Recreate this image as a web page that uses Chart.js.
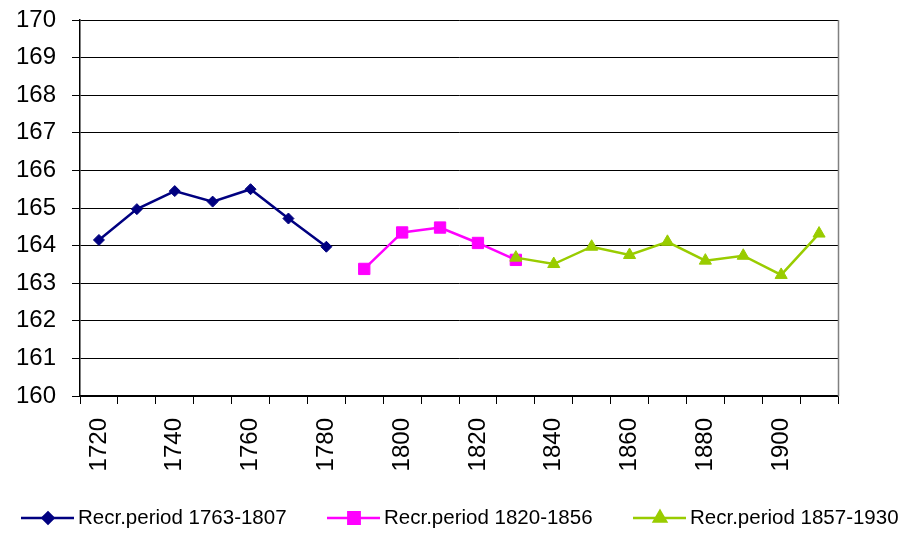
<!DOCTYPE html>
<html>
<head>
<meta charset="utf-8">
<script src="https://cdn.jsdelivr.net/npm/chart.js@4/dist/chart.umd.min.js"></script>
<style>
html,body{margin:0;padding:0;background:#fff;}
#wrap{width:903px;height:533px;position:relative;}
</style>
</head>
<body>
<div id="wrap"><canvas id="c" width="903" height="533"></canvas></div>
<script>
const years = ["1720","1730","1740","1750","1760","1770","1780","1790","1800","1810","1820","1830","1840","1850","1860","1870","1880","1890","1900","1910"];
const seriesNames = ["Recr.period 1763-1807","Recr.period 1820-1856","Recr.period 1857-1930"];
const period1 = [164.15,164.97,165.45,165.17,165.5,164.72,163.97,null,null,null,null,null,null,null,null,null,null,null,null,null];
const period2 = [null,null,null,null,null,null,null,163.38,164.35,164.48,164.07,163.62,null,null,null,null,null,null,null,null];
const period3 = [null,null,null,null,null,null,null,null,null,null,null,163.68,163.51,163.97,163.75,164.1,163.6,163.73,163.22,164.32];
const yMin = 160, yMax = 170, yStep = 1;

const FONT = "'Liberation Sans', Arial, sans-serif";
const colors = ["#000080","#FF00FF","#99CC00"];
const styles = ["rectRot","rect","triangle"];
const radii = [5.5,8,7];

const extras = {
  id: 'extras',
  afterDraw(chart) {
    const ctx = chart.ctx;
    const a = chart.chartArea;
    ctx.save();
    ctx.strokeStyle = '#808080';
    ctx.lineWidth = 1.5;
    ctx.beginPath();
    ctx.moveTo(a.right + 0.5, a.top);
    ctx.lineTo(a.right + 0.5, a.bottom);
    ctx.stroke();
    // legend
    const xs = [21, 327, 633];
    const ly = 518;
    ctx.font = "20.5px " + FONT;
    ctx.textBaseline = 'middle';
    ctx.textAlign = 'left';
    chart.data.datasets.forEach((ds, i) => {
      const x0 = xs[i];
      ctx.strokeStyle = colors[i];
      ctx.lineWidth = 2.5;
      ctx.beginPath();
      ctx.moveTo(x0, ly);
      ctx.lineTo(x0 + 53, ly);
      ctx.stroke();
      Chart.helpers.drawPoint(ctx, {pointStyle: styles[i], radius: radii[i], rotation: 0, borderWidth: 1}, x0 + 27, ly);
      ctx.fillStyle = colors[i];
      ctx.fill();
      ctx.fillStyle = '#000';
      ctx.fillText(ds.label, x0 + 57, ly);
    });
    ctx.restore();
  }
};

function mk(label, data, i, order) {
  return {
    label, data, order,
    borderColor: colors[i], backgroundColor: colors[i],
    borderWidth: 2.5, pointStyle: styles[i], pointRadius: radii[i],
    pointBackgroundColor: colors[i], pointBorderColor: colors[i], pointBorderWidth: 1,
    spanGaps: false, tension: 0
  };
}

new Chart(document.getElementById('c'), {
  type: 'line',
  data: {
    labels: years,
    datasets: [
      mk(seriesNames[0], period1, 0, 1),
      mk(seriesNames[1], period2, 1, 2),
      mk(seriesNames[2], period3, 2, 0)
    ]
  },
  options: {
    responsive: false,
    animation: false,
    layout: { padding: { left: 0, right: 65, top: 20, bottom: 37 } },
    plugins: { legend: { display: false }, tooltip: { enabled: false } },
    scales: {
      x: {
        type: 'category',
        offset: true,
        grid: { offset: true, drawOnChartArea: false, drawTicks: true, tickLength: 8, color: '#000', lineWidth: 1 },
        border: { color: '#000', width: 1.5 },
        ticks: {
          autoSkip: false, maxRotation: 90, minRotation: 90, padding: 14,
          color: '#000', font: { family: FONT, size: 24 },
          callback: function(v, idx) { return idx % 2 === 0 ? this.getLabelForValue(v) : ''; }
        },
        afterFit(s) { s.height = 100; s.paddingLeft = 0; s.paddingRight = 0; }
      },
      y: {
        min: yMin, max: yMax,
        grid: { color: '#000', lineWidth: 1, drawTicks: true, tickLength: 8 },
        border: { color: '#000', width: 1.5 },
        ticks: { stepSize: yStep, padding: 16, color: '#000', font: { family: FONT, size: 24 } },
        afterFit(s) { s.width = 80; s.paddingTop = 0; s.paddingBottom = 0; }
      }
    }
  },
  plugins: [extras]
});
</script>
</body>
</html>
